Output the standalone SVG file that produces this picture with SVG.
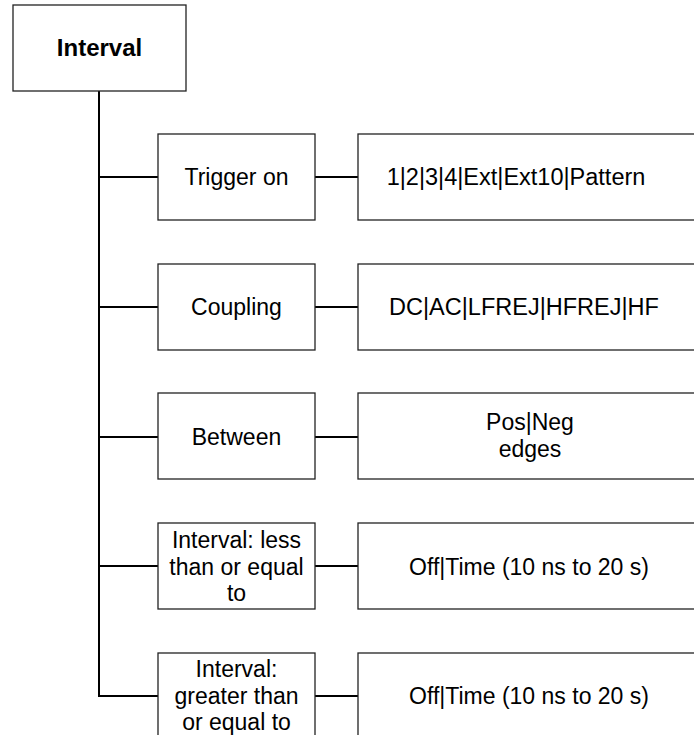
<svg xmlns="http://www.w3.org/2000/svg" width="694" height="735" viewBox="0 0 694 735">
<style>
.box{fill:#fff;stroke:#222;stroke-width:1.3}
.t{font-family:"Liberation Sans",Arial,sans-serif;font-size:23px;fill:#000;text-anchor:middle}
.b{font-weight:bold;font-size:24px}
.w{font-size:23.5px}
.c{stroke:#000;stroke-width:2;fill:none}
</style>
<rect width="694" height="735" fill="#fff"/>
<g id="connectors">
<path class="c" d="M99 91V696H158"/>
<path class="c" d="M99 177H158M315 177H358"/>
<path class="c" d="M99 307H158M315 307H358"/>
<path class="c" d="M99 437H158M315 437H358"/>
<path class="c" d="M99 566H158M315 566H358"/>
<path class="c" d="M315 696H358"/>
</g>
<g id="interval">
<rect class="box" x="13" y="5" width="173" height="86"/>
<text class="t b" x="99.5" y="56">Interval</text>
</g>
<g id="trigger-on">
<rect class="box" x="158" y="134" width="157" height="86"/>
<text class="t" x="236.5" y="185">Trigger on</text>
</g>
<g id="trigger-values">
<rect class="box" x="358" y="134" width="345" height="86"/>
<text class="t w" x="516" y="185">1|2|3|4|Ext|Ext10|Pattern</text>
</g>
<g id="coupling">
<rect class="box" x="158" y="264" width="157" height="86"/>
<text class="t" x="236.5" y="315">Coupling</text>
</g>
<g id="coupling-values">
<rect class="box" x="358" y="264" width="345" height="86"/>
<text class="t w" x="524" y="315">DC|AC|LFREJ|HFREJ|HF</text>
</g>
<g id="between">
<rect class="box" x="158" y="393" width="157" height="86"/>
<text class="t" x="236.5" y="445">Between</text>
</g>
<g id="between-values">
<rect class="box" x="358" y="393" width="345" height="86"/>
<text class="t" x="530" y="430">Pos|Neg</text>
<text class="t" x="530" y="457">edges</text>
</g>
<g id="interval-less">
<rect class="box" x="158" y="523" width="157" height="86"/>
<text class="t" x="236.5" y="548">Interval: less</text>
<text class="t" x="236.5" y="575">than or equal</text>
<text class="t" x="236.5" y="601">to</text>
</g>
<g id="interval-less-values">
<rect class="box" x="358" y="523" width="345" height="86"/>
<text class="t" x="529" y="575">Off|Time (10 ns to 20 s)</text>
</g>
<g id="interval-greater">
<rect class="box" x="158" y="653" width="157" height="90"/>
<text class="t" x="236.5" y="677">Interval:</text>
<text class="t" x="236.5" y="704">greater than</text>
<text class="t" x="236.5" y="730">or equal to</text>
</g>
<g id="interval-greater-values">
<rect class="box" x="358" y="653" width="345" height="90"/>
<text class="t" x="529" y="704">Off|Time (10 ns to 20 s)</text>
</g>
</svg>
